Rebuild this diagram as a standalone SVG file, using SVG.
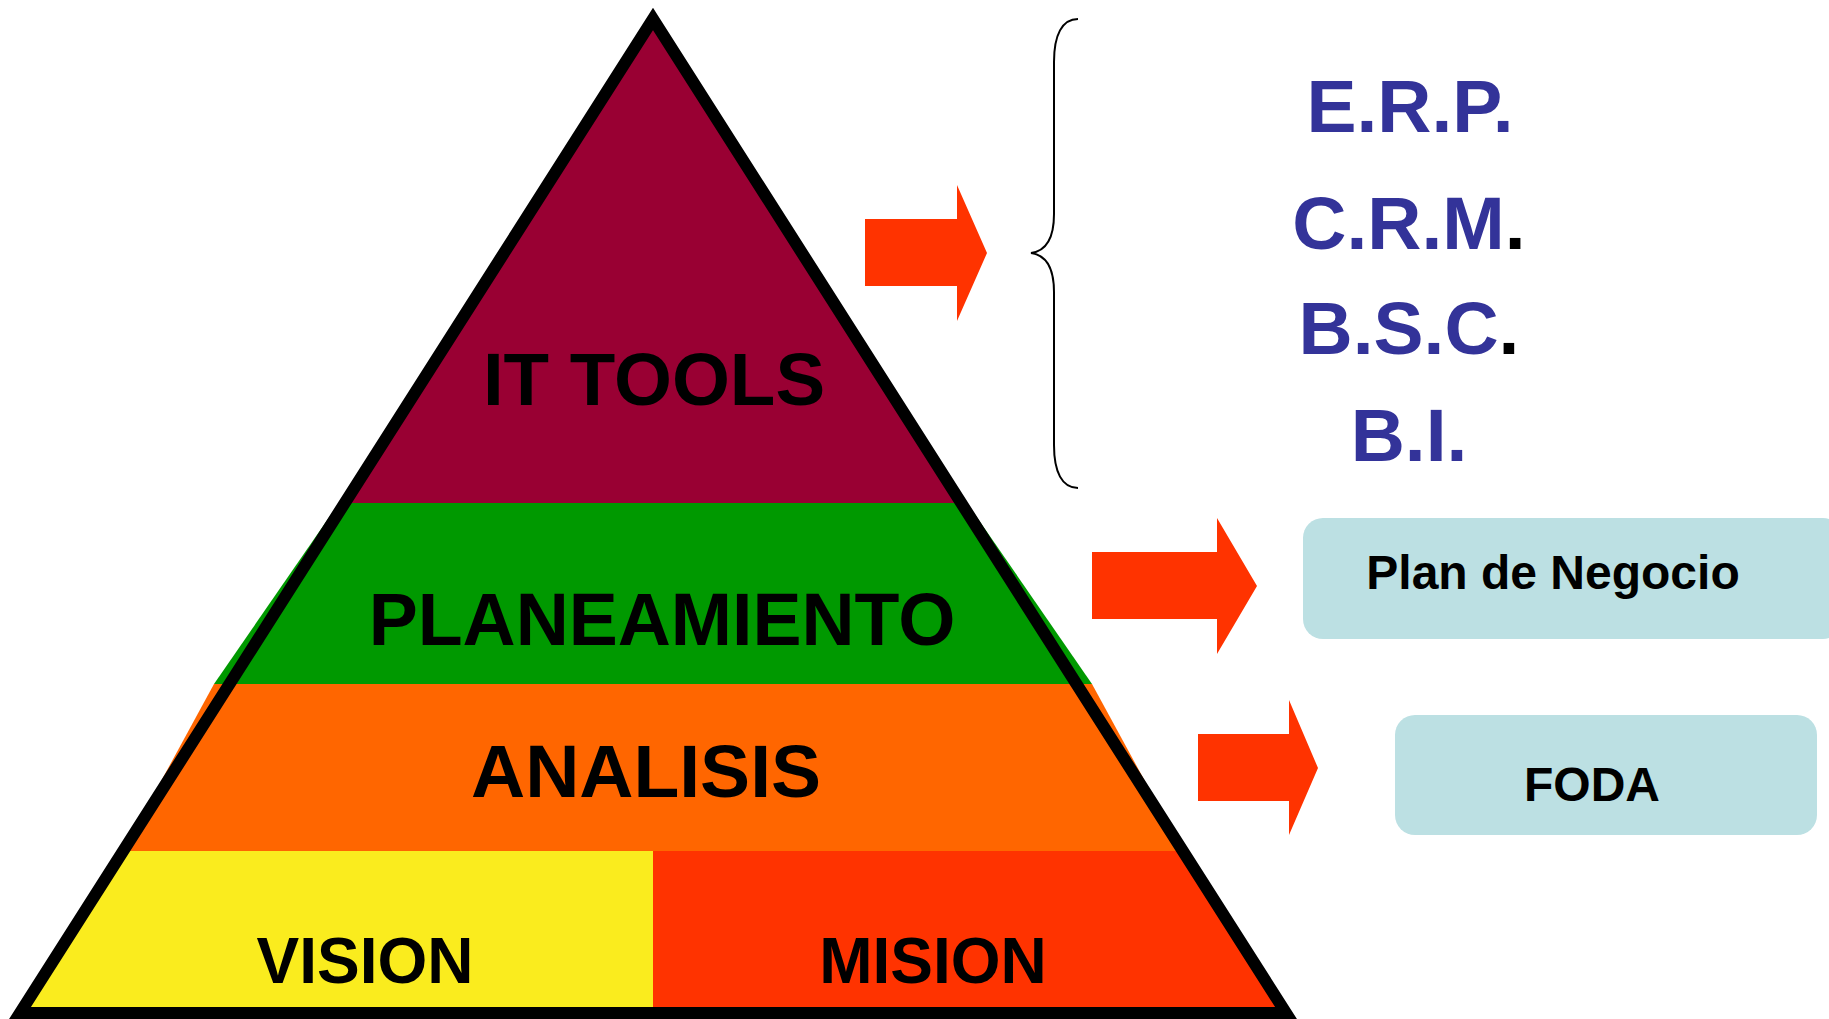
<svg xmlns="http://www.w3.org/2000/svg" width="1829" height="1019" viewBox="0 0 1829 1019">
  <style>
    .lbl { font-family: "Liberation Sans", Arial, sans-serif; font-weight: bold; fill: #000; text-anchor: middle; }
    .box-t { font-size: 48px; }
    .blue { font-family: "Liberation Sans", Arial, sans-serif; font-weight: bold; fill: #333399; font-size: 75px; text-anchor: middle; }
    .arrow { fill: #FF3300; }
    .box { fill: #BCE0E3; }
  </style>
  <rect width="1829" height="1019" fill="#fff"/>

  <g id="pyramid">
    <g id="band-it-tools">
      <polygon points="653,19 961,503 345,503" fill="#990033"/>
    </g>
    <g id="band-planeamiento">
      <polygon points="339,503 967,503 1092,684 214,684" fill="#009900"/>
    </g>
    <g id="band-analisis">
      <polygon points="214,684 1092,684 1183,851 123,851" fill="#FF6600"/>
    </g>
    <g id="band-vision">
      <polygon points="123,851 653,851 653,1013 20,1013" fill="#FAEC1E"/>
    </g>
    <g id="band-mision">
      <polygon points="653,851 1183,851 1286,1013 653,1013" fill="#FF3300"/>
    </g>
    <polygon id="outline" points="653,19 1286,1013 20,1013" fill="none" stroke="#000" stroke-width="12" stroke-linejoin="miter" stroke-miterlimit="10"/>
    <text class="lbl" x="654" y="405" font-size="74.5">IT TOOLS</text>
    <text class="lbl" x="662" y="645" font-size="73.5">PLANEAMIENTO</text>
    <text class="lbl" x="646" y="797" font-size="75">ANALISIS</text>
    <text class="lbl" x="365" y="983" font-size="64">VISION</text>
    <text class="lbl" x="933" y="983" font-size="64">MISION</text>
  </g>

  <g id="connectors">
    <polygon class="arrow" points="865,219 957,219 957,185 987,253 957,321 957,286 865,286"/>
    <polygon class="arrow" points="1092,552 1217,552 1217,518 1257,586 1217,654 1217,619 1092,619"/>
    <polygon class="arrow" points="1198,734 1289,734 1289,700 1318,768 1289,835 1289,801 1198,801"/>
    <path id="brace" d="M1078,19 C1062,19 1054,35 1054,62 L1054,214 C1054,238 1046,251 1031,253 C1046,255 1054,268 1054,292 L1054,445 C1054,472 1062,488 1078,488" fill="none" stroke="#000" stroke-width="2"/>
  </g>

  <g id="it-list">
    <text class="blue" x="1410" y="132">E.R.P.</text>
    <text class="blue" x="1409" y="249">C.R.M<tspan fill="#000">.</tspan></text>
    <text class="blue" x="1409" y="354">B.S.C<tspan fill="#000">.</tspan></text>
    <text class="blue" x="1409" y="461">B.I.</text>
  </g>

  <g id="node-plan">
    <rect class="box" x="1303" y="518" width="540" height="121" rx="20"/>
    <text class="lbl box-t" x="1553" y="589">Plan de Negocio</text>
  </g>

  <g id="node-foda">
    <rect class="box" x="1395" y="715" width="422" height="120" rx="20"/>
    <text class="lbl box-t" x="1592" y="801">FODA</text>
  </g>
</svg>
